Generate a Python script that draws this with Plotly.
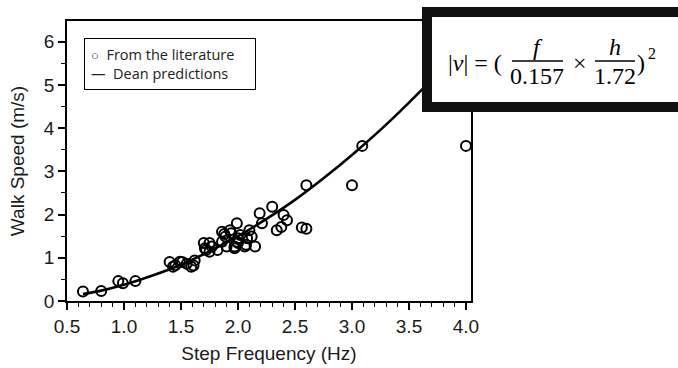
import plotly.graph_objects as go

# Literature data: step frequency (Hz) and walk speed (m/s)
freq_lit = [0.64, 0.80, 0.95, 0.99, 1.10, 1.40, 1.43, 1.45, 1.49, 1.51, 1.55, 1.59, 1.61, 1.62,
            1.70, 1.71, 1.72, 1.75, 1.75, 1.77, 1.82, 1.86, 1.86, 1.88, 1.89, 1.90, 1.93, 1.94,
            1.97, 1.97, 1.99, 1.99, 2.00, 2.00, 2.02, 2.06, 2.07, 2.08, 2.10, 2.12, 2.15, 2.19,
            2.21, 2.30, 2.34, 2.38, 2.40, 2.43, 2.56, 2.60, 2.60, 3.00, 3.09, 4.00]
speed_lit = [0.22, 0.23, 0.46, 0.41, 0.46, 0.90, 0.79, 0.83, 0.91, 0.90, 0.86, 0.79, 0.82, 0.94,
             1.34, 1.22, 1.18, 1.34, 1.14, 1.26, 1.18, 1.60, 1.37, 1.55, 1.49, 1.26, 1.64, 1.57,
             1.22, 1.26, 1.80, 1.37, 1.34, 1.45, 1.53, 1.26, 1.30, 1.45, 1.64, 1.49, 1.26, 2.03,
             1.80, 2.18, 1.64, 1.71, 1.99, 1.87, 1.70, 1.67, 2.68, 2.68, 3.59, 3.59]

# Dean predictions curve
freq_pred = [0.64, 0.80, 1.00, 1.25, 1.50, 1.75, 2.00, 2.25, 2.50, 2.75, 3.00, 3.25, 3.50, 3.75, 4.00]
speed_pred = [0.16, 0.24, 0.375, 0.59, 0.84, 1.15, 1.50, 1.90, 2.34, 2.84, 3.38, 3.96, 4.59, 5.27, 6.00]

x_ticks = [0.5, 1.0, 1.5, 2.0, 2.5, 3.0, 3.5, 4.0]
y_ticks = [0, 1, 2, 3, 4, 5, 6]

legend_labels = ["From the literature", "Dean predictions"]

W, H = 678, 368
L, R, T, B = 67, 207, 21, 67
PW, PH = W - L - R, H - T - B


def px(xp):
    return (xp - L) / PW


def py(yp):
    return (H - B - yp) / PH


fig = go.Figure()
fig.add_trace(go.Scatter(
    x=freq_lit, y=speed_lit, mode="markers", name=legend_labels[0],
    marker=dict(symbol="circle-open", size=10, color="black", line=dict(width=2, color="black")),
    showlegend=False,
))
fig.add_trace(go.Scatter(
    x=freq_pred, y=speed_pred, mode="lines", name=legend_labels[1],
    line=dict(color="black", width=2.6, shape="spline"),
    showlegend=False,
))

axis_font = dict(family="Liberation Sans, Arial, sans-serif", size=19, color="#1a1a1a")

fig.update_xaxes(
    range=[0.5, 4.044], tickvals=x_ticks, ticktext=[f"{v:.1f}" for v in x_ticks],
    ticks="outside", ticklen=7, tickwidth=1.5, tickcolor="black",
    minor=dict(dtick=0.1, tick0=0.5, ticks="outside", ticklen=4, tickwidth=1.2, tickcolor="black"),
    showline=True, linewidth=1.5, linecolor="black", mirror=True,
    showgrid=False, zeroline=False, tickfont=axis_font,
    title=dict(text="Step Frequency (Hz)", font=axis_font, standoff=11),
    automargin=False,
)
fig.update_yaxes(
    range=[0, 6.48], tickvals=y_ticks, ticktext=[str(v) for v in y_ticks],
    ticks="outside", ticklen=7, tickwidth=1.5, tickcolor="black",
    minor=dict(dtick=0.5, tick0=0, ticks="outside", ticklen=4, tickwidth=1.2, tickcolor="black"),
    showline=True, linewidth=1.5, linecolor="black", mirror=True,
    showgrid=False, zeroline=False, tickfont=axis_font,
    title=dict(text="Walk Speed (m/s)", font=axis_font, standoff=14),
    automargin=False,
)

shapes = [
    # equation box with thick border
    dict(type="rect", xref="paper", yref="paper",
         x0=px(427), x1=px(720), y0=py(107), y1=py(12),
         line=dict(color="#111111", width=10), fillcolor="white", layer="above"),
    # fraction bars
    dict(type="line", xref="paper", yref="paper", x0=px(512), x1=px(563), y0=py(61), y1=py(61),
         line=dict(color="black", width=1.3), layer="above"),
    dict(type="line", xref="paper", yref="paper", x0=px(595), x1=px(635), y0=py(61), y1=py(61),
         line=dict(color="black", width=1.3), layer="above"),
]

serif = "Liberation Serif, DejaVu Serif, serif"
eq_font = dict(family=serif, size=24, color="black")
annotations = [
    dict(text="|<i>v</i>| = (", x=px(446), y=py(63), xanchor="left", yanchor="middle",
         showarrow=False, font=eq_font, xref="paper", yref="paper"),
    dict(text="<i>f</i>", x=px(538), y=py(47), xanchor="center", yanchor="middle",
         showarrow=False, font=eq_font, xref="paper", yref="paper"),
    dict(text="0.157", x=px(537), y=py(76), xanchor="center", yanchor="middle",
         showarrow=False, font=eq_font, xref="paper", yref="paper"),
    dict(text="×", x=px(580), y=py(63), xanchor="center", yanchor="middle",
         showarrow=False, font=eq_font, xref="paper", yref="paper"),
    dict(text="<i>h</i>", x=px(615), y=py(47), xanchor="center", yanchor="middle",
         showarrow=False, font=eq_font, xref="paper", yref="paper"),
    dict(text="1.72", x=px(615), y=py(76), xanchor="center", yanchor="middle",
         showarrow=False, font=eq_font, xref="paper", yref="paper"),
    dict(text=")", x=px(641), y=py(63), xanchor="center", yanchor="middle",
         showarrow=False, font=eq_font, xref="paper", yref="paper"),
    dict(text="2", x=px(652), y=py(53), xanchor="center", yanchor="middle",
         showarrow=False, font=dict(family=serif, size=16, color="black"),
         xref="paper", yref="paper"),
    # legend box
    dict(text=("<span style='font-size:13px'>○</span>  " + legend_labels[0] + "<br>"
               "—  " + legend_labels[1]),
         x=px(84), y=py(38), xanchor="left", yanchor="top", align="left",
         showarrow=False, xref="paper", yref="paper",
         font=dict(family="Open Sans, sans-serif", size=14.5, color="#222222"),
         bordercolor="black", borderwidth=1, borderpad=6, width=158, height=38,
         bgcolor="white"),
]

fig.update_layout(
    width=W, height=H,
    margin=dict(l=L, r=R, t=T, b=B, autoexpand=False),
    plot_bgcolor="white", paper_bgcolor="white",
    shapes=shapes, annotations=annotations,
    showlegend=False,
)

fig.write_html("out.html", config={"displayModeBar": False},
               post_script="document.body.style.margin='0';")
